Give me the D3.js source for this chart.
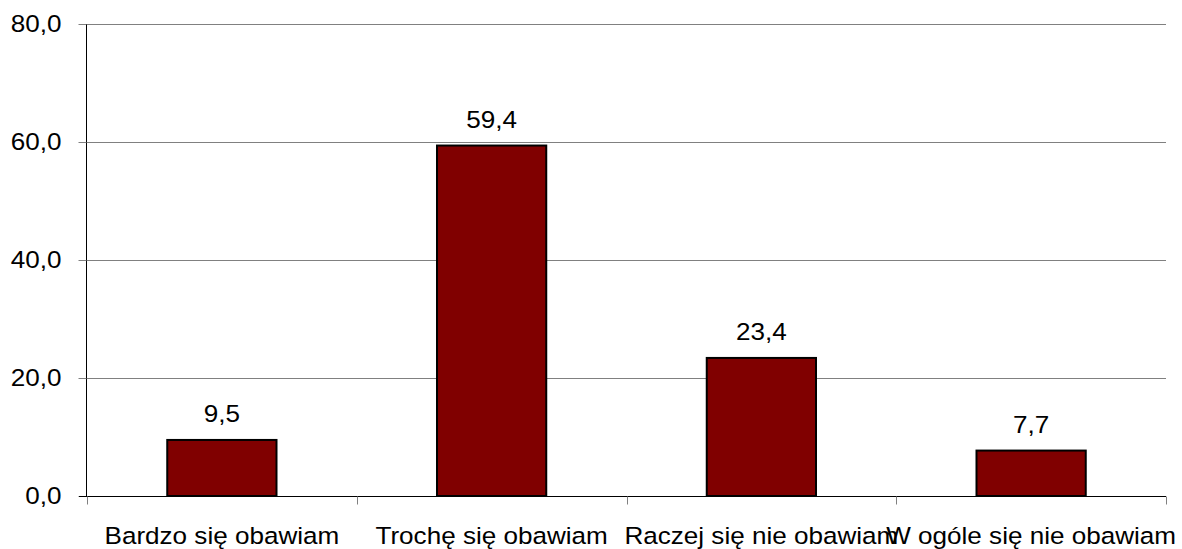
<!DOCTYPE html>
<html><head><meta charset="utf-8">
<script src="https://cdn.jsdelivr.net/npm/d3@7"></script>
<style>body{margin:0;background:#fff}svg{display:block}text{font-family:"Liberation Sans",Arial,sans-serif;fill:#000}</style>
</head><body><svg id="c" width="1182" height="549"></svg>
<script>
const categories = ["Bardzo się obawiam","Trochę się obawiam","Raczej się nie obawiam","W ogóle się nie obawiam"];
const values = [9.5, 59.4, 23.4, 7.7];
const yTicks = [0, 20, 40, 60, 80];

const svg = d3.select("#c");
const L = 87, R = 1166, T = 24, B = 496;
const FS = 23.5, SX = 1.11;
const x = d3.scaleBand().domain(categories).range([L, R]).paddingInner(0).paddingOuter(0);
const y = d3.scaleLinear().domain([0, 80]).range([B, T]);
const fmt = v => v.toFixed(1).replace(".", ",");

// gridlines
svg.append("g").selectAll("line").data(yTicks.filter(d => d > 0)).join("line")
  .attr("x1", L).attr("x2", R).attr("y1", d => Math.round(y(d)) + 0.5).attr("y2", d => Math.round(y(d)) + 0.5)
  .attr("stroke", "#808080").attr("stroke-width", 1);

// y axis
const yAxis = d3.axisLeft(y).tickValues(yTicks).tickFormat(fmt).tickSize(8).tickPadding(17);
const gy = svg.append("g").attr("transform", `translate(${L - 0.5},0)`).call(yAxis);
gy.select(".domain").attr("stroke", "#000").attr("d", `M0,${T}V${B}`);
gy.selectAll(".tick line").attr("stroke", "#808080");
gy.selectAll(".tick text").attr("font-size", FS).attr("font-family", '"Liberation Sans",Arial,sans-serif').attr("fill", "#000")
  .attr("x", -25 / SX).attr("transform", `scale(${SX},1)`);

// bars
const bw = x.bandwidth() * 0.405;
svg.append("g").selectAll("rect").data(values).join("rect")
  .attr("x", (d, i) => x(categories[i]) + x.bandwidth() / 2 - bw / 2)
  .attr("y", d => y(d))
  .attr("width", bw)
  .attr("height", d => B - y(d))
  .attr("fill", "#800000").attr("stroke", "#000").attr("stroke-width", 2);

// x axis
const gx = svg.append("g").attr("transform", `translate(0,${B + 0.5})`);
gx.append("line").attr("x1", L - 8).attr("x2", R).attr("stroke", "#000");
const bounds = categories.map(c => x(c)).concat([R]);
gx.selectAll("line.t").data(bounds).join("line").attr("class", "t")
  .attr("x1", d => Math.round(d) + 0.5).attr("x2", d => Math.round(d) + 0.5).attr("y1", 0).attr("y2", 8)
  .attr("stroke", "#808080");
svg.append("g").selectAll("text").data(categories).join("text")
  .attr("transform", d => `translate(${x(d) + x.bandwidth() / 2},543.5) scale(${SX},1)`)
  .attr("text-anchor", "middle").attr("font-size", FS).text(d => d);

// value labels
svg.append("g").selectAll("text").data(values).join("text")
  .attr("transform", (d, i) => `translate(${x(categories[i]) + x.bandwidth() / 2},${y(d) - 18}) scale(${SX},1)`)
  .attr("text-anchor", "middle").attr("font-size", FS).text(d => fmt(d));
</script></body></html>
